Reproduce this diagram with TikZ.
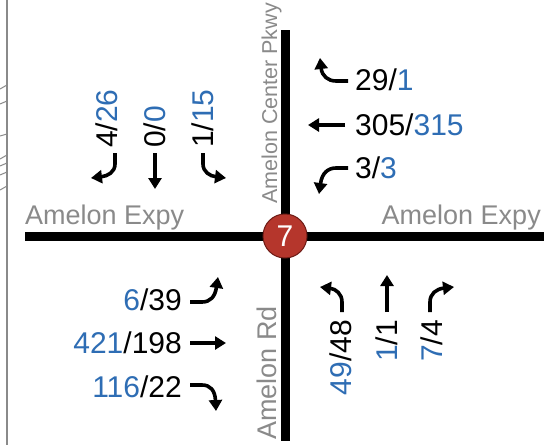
\documentclass[tikz,border=0pt]{standalone}
\usepackage{fontspec}
\setmainfont{Liberation Sans}
\usetikzlibrary{arrows.meta}
\definecolor{cntblue}{HTML}{2E6DB4}
\definecolor{roadgray}{HTML}{8A8A8A}
\definecolor{sigred}{HTML}{B5362C}
\definecolor{sigedge}{HTML}{6E1C16}
\newcommand{\bl}[1]{\textcolor{cntblue}{#1}}
\begin{document}
\begin{tikzpicture}[x=1pt,y=-1pt,
  road/.style={line width=9pt,black},
  mv/.style={line width=3.6pt,black,-{Triangle[length=11pt,width=13pt]}},
  cnt/.style={inner sep=0pt,font=\fontsize{30}{34}\selectfont},
  rname/.style={inner sep=0pt,text=roadgray,font=\fontsize{27}{30}\selectfont},
  sig/.style={circle,fill=sigred,draw=sigedge,line width=1pt,minimum size=44pt,inner sep=0pt,text=white,font=\fontsize{30}{32}\selectfont}]
\useasboundingbox (0,0) rectangle (544,445);
\fill[white] (0,0) rectangle (544,445);
% left frame line and fragments
\draw[roadgray,line width=1.6pt] (7,0) -- (7,445);
\draw[roadgray,line width=1pt] (0,89) .. controls (3,87) .. (7,85);
\draw[roadgray,line width=1pt] (0,104) .. controls (3,103) .. (7,101);
\draw[roadgray,line width=1pt] (0,136) -- (7,134);
\draw[roadgray,line width=1pt] (0,159) .. controls (3,157) .. (7,155);
\draw[roadgray,line width=1pt] (0,166) -- (7,163);
\draw[roadgray,line width=1pt] (0,175) -- (7,172);
\draw[roadgray,line width=1pt] (0,190) .. controls (3,188) .. (7,186);
% roads
\coordinate (wend) at (25,236);
\coordinate (eend) at (544,236);
\coordinate (nend) at (285,30);
\coordinate (send) at (285,441);
\draw[road] (wend) -- (eend);
\draw[road] (nend) -- (send);
\node[sig] (s7) at (285,236) {7};
% road names
\node[rname,anchor=base west] (lexpy) at (25,224) {Amelon Expy};
\node[rname,anchor=base east] (rexpy) at (541,224) {Amelon Expy};
\node[rname,rotate=90,anchor=base west,font=\fontsize{21.5}{24}\selectfont] (pkwy) at (277,204) {Amelon Center Pkwy};
\node[rname,rotate=90,anchor=base west] (ard) at (276,440) {Amelon Rd};
% southbound (north side)
\node[cnt,rotate=90,anchor=west] (n1) at (107,148) {4/\bl{26}};
\node[cnt,rotate=90,anchor=west] (n2) at (155,148) {0/\bl{0}};
\node[cnt,rotate=90,anchor=west] (n3) at (203,148) {1/\bl{15}};
\draw[mv] (115,153) -- (115,164) .. controls (115,172) and (108,176) .. (91,178);
\draw[mv] (155,153) -- (155,189);
\draw[mv] (203,153) -- (203,164) .. controls (203,172) and (210,176) .. (226,178);
% westbound (east side)
\node[cnt,anchor=west] (e1) at (355,80) {29/\bl{1}};
\node[cnt,anchor=west] (e2) at (355,125) {305/\bl{315}};
\node[cnt,anchor=west] (e3) at (355,168) {3/\bl{3}};
\draw[mv] (348,81) -- (336,81) .. controls (328,81) and (322,76) .. (320,58);
\draw[mv] (345,125) -- (308,125);
\draw[mv] (348,168) -- (336,168) .. controls (328,168) and (322,173) .. (319,194);
% eastbound (west side)
\node[cnt,anchor=east] (w1) at (182,300) {\bl{6}/39};
\node[cnt,anchor=east] (w2) at (182,343) {\bl{421}/198};
\node[cnt,anchor=east] (w3) at (182,387) {\bl{116}/22};
\draw[mv] (190,302) -- (202,302) .. controls (210,302) and (215,297) .. (218,277);
\draw[mv] (190,343) -- (226,343);
\draw[mv] (190,385) -- (202,385) .. controls (210,385) and (215,390) .. (216,411);
% northbound (south side)
\node[cnt,rotate=90,anchor=east] (s1) at (341,320) {\bl{49}/48};
\node[cnt,rotate=90,anchor=east] (s2) at (387,320) {\bl{1}/1};
\node[cnt,rotate=90,anchor=east] (s3) at (432,320) {\bl{7}/4};
\draw[mv] (342,312) -- (342,302) .. controls (342,294) and (336,289) .. (320,287);
\draw[mv] (387,312) -- (387,275);
\draw[mv] (430,312) -- (430,302) .. controls (430,294) and (436,289) .. (454,287);
\end{tikzpicture}
\end{document}
